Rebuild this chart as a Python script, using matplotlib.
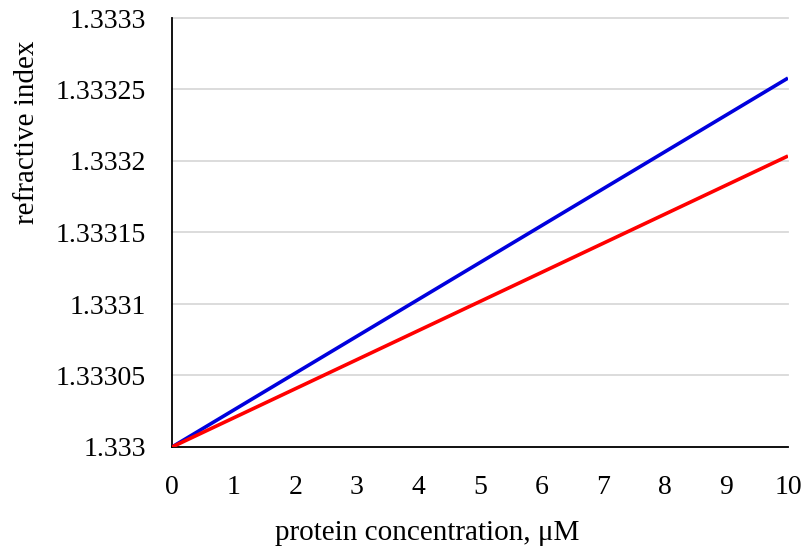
import matplotlib
matplotlib.use("Agg")
import matplotlib.pyplot as plt

concentration_uM = [0, 10]
n_blue = [1.333, 1.333258]
n_red = [1.333, 1.3332035]

x_ticks = list(range(0, 11))
y_ticks = [1.333, 1.33305, 1.3331, 1.33315, 1.3332, 1.33325, 1.3333]
y_tick_labels = ["1.333", "1.33305", "1.3331", "1.33315", "1.3332", "1.33325", "1.3333"]

plt.rcParams['font.family'] = ['Liberation Serif', 'DejaVu Serif']

W, H = 804, 550
fig = plt.figure(figsize=(W / 100, H / 100), dpi=100)
ax = fig.add_axes([172 / W, 1 - 447 / H, 616 / W, 429 / H])

ax.plot(concentration_uM, n_blue, color='#0000dd', lw=2.6, solid_capstyle='butt', zorder=3)
ax.plot(concentration_uM, n_red, color='#ff0000', lw=2.6, solid_capstyle='butt', zorder=3)

ax.set_xlim(0, 10)
ax.set_ylim(1.333, 1.3333)
ax.set_xticks(x_ticks)
ax.set_xticklabels([str(v) for v in x_ticks])
ax.set_yticks(y_ticks)
ax.set_yticklabels(y_tick_labels)
ax.tick_params(axis='both', length=0, labelsize=20)
ax.tick_params(axis='x', pad=20)
ax.tick_params(axis='y', pad=19)

ax.grid(axis='y', color='#d9d9d9', lw=1.3, zorder=0, clip_on=False)
ax.set_axisbelow(True)
for s in ['top', 'right']:
    ax.spines[s].set_visible(False)
for s in ['left', 'bottom']:
    ax.spines[s].set_color('black')
    ax.spines[s].set_linewidth(1.3)

fig.text(427 / W, 1 - 540 / H, 'protein concentration, μM', fontsize=21,
         ha='center', va='baseline')
fig.text(34 / W, 1 - 132 / H, 'refractive index', fontsize=21,
         ha='center', va='baseline', rotation=90, rotation_mode='anchor')

fig.savefig('out.png', dpi=100)
